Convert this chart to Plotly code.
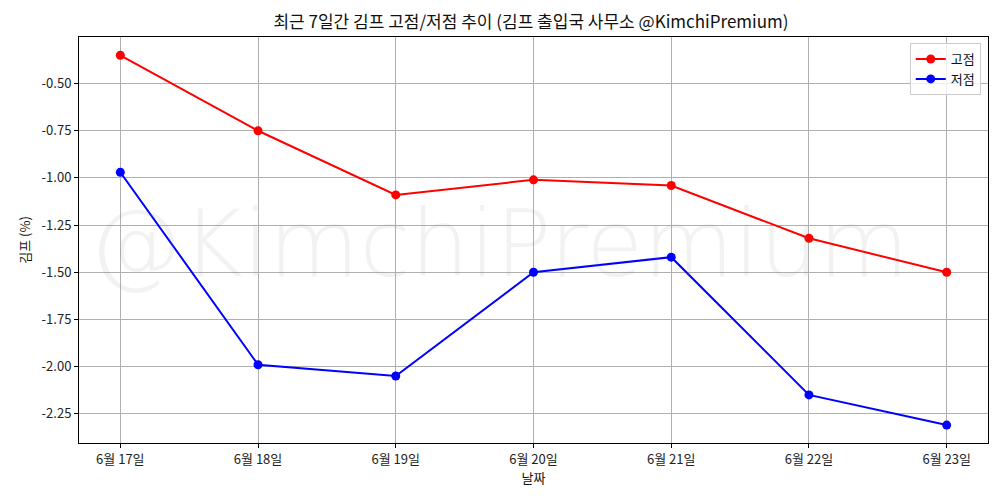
import plotly.graph_objects as go

dates = ["6월 17일", "6월 18일", "6월 19일", "6월 20일", "6월 21일", "6월 22일", "6월 23일"]
high = [-0.35, -0.75, -1.09, -1.01, -1.04, -1.32, -1.50]
low = [-0.97, -1.99, -2.05, -1.50, -1.42, -2.15, -2.31]
yticks = [-0.50, -0.75, -1.00, -1.25, -1.50, -1.75, -2.00, -2.25]

FONT = "Noto Sans CJK KR"
x = list(range(len(dates)))

fig = go.Figure()
fig.add_trace(go.Scatter(x=x, y=high, mode="lines+markers", name="고점",
                         line=dict(color="red", width=2), marker=dict(color="red", size=9)))
fig.add_trace(go.Scatter(x=x, y=low, mode="lines+markers", name="저점",
                         line=dict(color="blue", width=2), marker=dict(color="blue", size=9)))

fig.add_annotation(text="@KimchiPremium", xref="paper", yref="paper", x=0.462, y=0.49,
                   showarrow=False,
                   font=dict(family="DejaVu Sans", weight=200, size=93, color="rgba(128,128,128,0.1)"))

axis_common = dict(showline=True, linecolor="black", linewidth=1, mirror=True,
                   showgrid=True, gridcolor="#b0b0b0", gridwidth=1,
                   ticks="outside", ticklen=4, tickcolor="black", zeroline=False,
                   tickfont=dict(family=FONT, size=13, color="#222"))

fig.update_layout(
    width=1000, height=500,
    margin=dict(l=79, r=12, t=37, b=57),
    plot_bgcolor="white", paper_bgcolor="white",
    title=dict(text="최근 7일간 김프 고점/저점 추이 (김프 출입국 사무소 @KimchiPremium)",
               x=0.531, xanchor="center", y=0.955, yanchor="middle",
               font=dict(family=FONT, size=17, color="#111")),
    xaxis=dict(range=[-0.3, 6.3], tickvals=x, ticktext=dates,
               title=dict(text="날짜", font=dict(family=FONT, size=13, color="#111"), standoff=4),
               **axis_common),
    yaxis=dict(range=[-2.405, -0.253], tickvals=yticks,
               ticktext=[f"{v:.2f}" for v in yticks],
               title=dict(text="김프 (%)", font=dict(family=FONT, size=13, color="#111"), standoff=8),
               **axis_common),
    legend=dict(x=0.992, y=0.985, xanchor="right", yanchor="top",
                bgcolor="rgba(255,255,255,0.8)", bordercolor="#cccccc", borderwidth=1,
                font=dict(family=FONT, size=13, color="#111")),
    showlegend=True,
)

fig.write_html("out.html")
